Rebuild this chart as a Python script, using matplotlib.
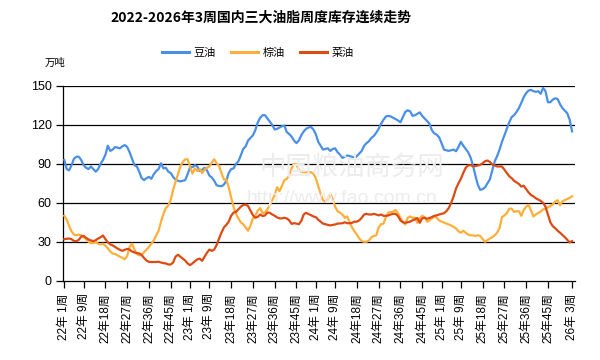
import matplotlib
matplotlib.use("Agg")
import matplotlib.pyplot as plt
from matplotlib.lines import Line2D

plt.rcParams['font.family'] = ['Liberation Sans', 'Noto Sans CJK SC', 'DejaVu Sans']

title = "2022-2026年3周国内三大油脂周度库存连续走势"
series_names = ["豆油", "棕油", "菜油"]
unit_label = "万吨"

soy = [93, 86, 85, 89, 94, 95.5, 95.5, 93, 89, 87,
       86, 88, 86, 84, 86, 90, 93, 97, 104, 100,
       101, 103, 102.5, 102, 103.5, 104.5, 103, 99, 94, 89,
       88, 84, 79, 77.5, 79, 80, 78.5, 82, 84.5, 86,
       90.5, 86.5, 87, 84, 83, 80, 78, 77, 76.5, 77,
       77.5, 82, 87.5, 87.5, 89, 88, 84.5, 85.5, 87, 85,
       81, 79.5, 77, 73.5, 73, 72.8, 74, 77, 83, 86,
       86.5, 90, 92, 96.5, 101.5, 103.5, 108, 110, 112, 116,
       122, 125.5, 127.5, 127.5, 125, 122.5, 120, 116.5, 117, 118,
       119, 119.5, 114.5, 113, 111, 108, 106, 108, 112, 115,
       117, 118, 118.5, 116.5, 113, 107, 104, 101, 101.5, 102,
       100, 101.5, 102, 99, 97.2, 94.6, 95.5, 96.5, 96, 95.5,
       94.6, 96, 98, 100, 104, 106, 107.5, 110, 111.5, 114,
       117, 121, 124, 126.5, 127, 126.5, 125.5, 124.5, 123.5, 122,
       126, 130, 131.3, 130.5, 127, 127.5, 128.5, 129.7, 127, 125,
       123, 121, 116, 113.5, 112.5, 110.5, 106, 101, 100.5, 100,
       100.5, 101, 99.7, 103, 107, 104, 101.5, 99, 95, 89,
       81, 74, 70, 70.5, 72, 75, 78, 85, 92, 96,
       101, 107, 112, 117, 122, 126, 127.5, 130, 133, 137,
       141.5, 144.5, 146.5, 147, 146, 145.5, 146, 144, 148.5, 146,
       137.5, 137.5, 139.5, 140.5, 140, 136, 133, 131, 129, 124,
       115]

palm = [50, 47, 42, 38, 35.5, 35, 35.5, 35, 33.5, 32,
        30, 29, 29, 29.7, 28.5, 28, 28.5, 27, 25, 22.5,
        21, 20.5, 19.5, 18.5, 17.7, 16.5, 19, 26, 28.5, 24,
        20.5, 19.5, 20, 22, 24, 26, 28.5, 31, 35, 38.5,
        45.5, 51.5, 56, 58, 62, 70, 76, 82, 88, 91.5,
        93.5, 93.5, 88, 82.5, 86.5, 84.5, 86, 83, 85.5, 87,
        88, 91, 93.5, 90.5, 88.5, 83, 78, 78, 72, 64,
        57, 51.5, 48, 45, 43.5, 41, 38.5, 42.5, 48, 50,
        54, 56, 52, 52.5, 55, 58, 62, 66, 72, 69,
        73, 77.5, 78.5, 81, 86.5, 90, 89.5, 85.5, 84, 83.6,
        83.6, 83.6, 83.5, 82.5, 79, 73, 67, 62, 61, 62.5,
        67, 63, 57, 53.5, 52.5, 51, 48.5, 49.5, 45, 41,
        38, 35.5, 32.5, 30.5, 30, 30, 31, 33.5, 34.5, 35,
        41, 43.5, 44, 49, 52.5, 52.8, 53.2, 54.5, 52, 48.5,
        45.5, 43.3, 48.5, 49.5, 48.5, 48.5, 44.6, 48, 50, 49,
        45.5, 46.5, 48, 49.5, 48.5, 46.5, 45.5, 44.8, 44, 43.3,
        42.5, 41.5, 40.3, 38, 37, 38.5, 37, 35.5, 35, 34.9,
        34.5, 35, 34.5, 32, 30, 31.3, 32.5, 33.5, 35, 37,
        40.5, 49, 50.3, 52, 55.5, 55.5, 53, 53.5, 53.5, 50,
        54.5, 57, 58.5, 54, 49.5, 51, 52.3, 53.2, 54.9, 55.5,
        56.5, 57.5, 58.7, 61, 62, 58, 61.3, 62, 63, 63.8,
        65]

rapeseed = [32, 32.3, 32.5, 32, 30.5, 30.5, 31.5, 34, 34.5, 33,
            31.8, 31, 30.5, 31.2, 32.5, 33.5, 34.8, 32, 29.5, 28,
            27.2, 26, 24.8, 23.8, 23, 23.8, 24.5, 24, 22.5, 21.8,
            21.3, 21, 19.8, 17.5, 15.5, 14.5, 14.4, 14.4, 14.4, 14.6,
            14, 13.5, 13.3, 12.5, 12.5, 14, 18.5, 20, 18.5, 17,
            15.5, 13.3, 12, 13.3, 15, 16.4, 17, 15.3, 18.5, 21.5,
            24, 23, 24, 27.5, 32.5, 37, 41, 43, 45.5, 50,
            52.5, 53, 55, 57, 58.3, 58.7, 57.5, 54, 50.5, 48.5,
            49.2, 51, 49.8, 50.3, 52.5, 52.3, 51, 50, 48.8, 48,
            48, 48.5, 48, 46.5, 43.8, 44.3, 44, 43.5, 46, 51,
            52.3, 51.3, 50.5, 49.5, 49, 47, 45.5, 44, 43.5, 43,
            42.6, 43, 43.3, 44, 44.1, 44.3, 45, 44.3, 44.3, 44.6,
            45.5, 45.5, 46.5, 48.5, 51, 51.5, 51, 51, 51.5, 51,
            50.3, 51, 50, 50, 50.3, 51, 51.5, 51.5, 49.8, 46.5,
            45, 44.6, 45, 45.5, 46.5, 47.2, 48.3, 44.6, 48, 48.5,
            47.7, 48.3, 49, 50, 50.3, 51, 51.5, 52, 53.5, 56,
            60, 65, 71, 75, 78.5, 83, 87, 88.8, 89, 88.2,
            88.3, 88.8, 89.2, 90.5, 92, 92.6, 91.5, 89.5, 88.8, 88,
            88, 88, 85.5, 83, 80.5, 79, 77, 75.8, 74.5, 72.5,
            73.2, 70.5, 68, 66, 65, 63.5, 62.5, 61.5, 60, 57,
            51, 45, 42, 40.5, 38.5, 37, 35.3, 33.5, 31.5, 29.5,
            30.5]

tick_years = [22] * 6 + [23] * 6 + [24] * 6 + [25] * 6 + [26]
tick_weeks = [1, 9, 18, 27, 36, 45] * 4 + [3]
y_ticks = [0, 30, 60, 90, 120, 150]

colors = ["#4a8fe6", "#ffae3a", "#dd4a12"]

W, H = 600, 360
fig = plt.figure(figsize=(W / 100, H / 100), dpi=100)
ax = fig.add_axes([62.7 / W, 1 - 280.7 / H, (575 - 62.7) / W, (280.7 - 86) / H])

x = list(range(len(soy)))
for vals, c, name in zip([soy, palm, rapeseed], colors, series_names):
    ax.plot(x, vals, color=c, lw=1.6, label=name, zorder=3, solid_joinstyle='round')

ax.set_ylim(0, 150)
ax.set_xlim(-0.66, len(soy) - 1 + 1.2)
ax.set_yticks(y_ticks)
ax.set_yticklabels([str(v) for v in y_ticks], fontsize=9)
for v in y_ticks[1:]:
    ax.axhline(v, color='black', lw=0.9, zorder=2)

tick_pos = [(yy - 22) * 52 + ww - 1 for yy, ww in zip(tick_years, tick_weeks)]
tick_lab = [f"{yy}年{ww:>2d}周" for yy, ww in zip(tick_years, tick_weeks)]
ax.set_xticks(tick_pos)
ax.set_xticklabels(tick_lab, rotation=90, fontsize=8.5, va='top', ha='center')
ax.tick_params(axis='x', length=5, width=0.9, pad=4, color='black')
ax.tick_params(axis='y', length=5, width=0.9, pad=3, color='black')

for s in ['top', 'right']:
    ax.spines[s].set_visible(False)
for s in ['left', 'bottom']:
    ax.spines[s].set_color('black')
    ax.spines[s].set_linewidth(0.9)

# watermark
fig.text(352 / W, 1 - 167 / H, "中国粮油商务网", fontsize=19, color='#ececec',
         ha='center', va='center', family=['Noto Sans CJK SC'], zorder=0)
fig.text(342 / W, 1 - 198 / H, "http://www.fao.com.cn", fontsize=14, color='#ececec',
         ha='center', va='center', zorder=0)

fig.text(261 / W, 1 - 18 / H, title, fontsize=10, fontweight='bold',
         ha='center', va='center', family=['Noto Sans CJK SC', 'DejaVu Sans'])
fig.text(45 / W, 1 - 63 / H, unit_label, fontsize=7.5, ha='left', va='center',
         family=['Noto Sans CJK SC'])

handles = [Line2D([0], [0], color=c, lw=2.2) for c in colors]
fig.legend(handles, series_names, loc='center', bbox_to_anchor=(258 / W, 1 - 53 / H),
           ncol=3, frameon=False, handlelength=2.4, handletextpad=0.4,
           columnspacing=1.4, prop={'family': ['Noto Sans CJK SC'], 'size': 8})

fig.savefig("out.png", dpi=100)
